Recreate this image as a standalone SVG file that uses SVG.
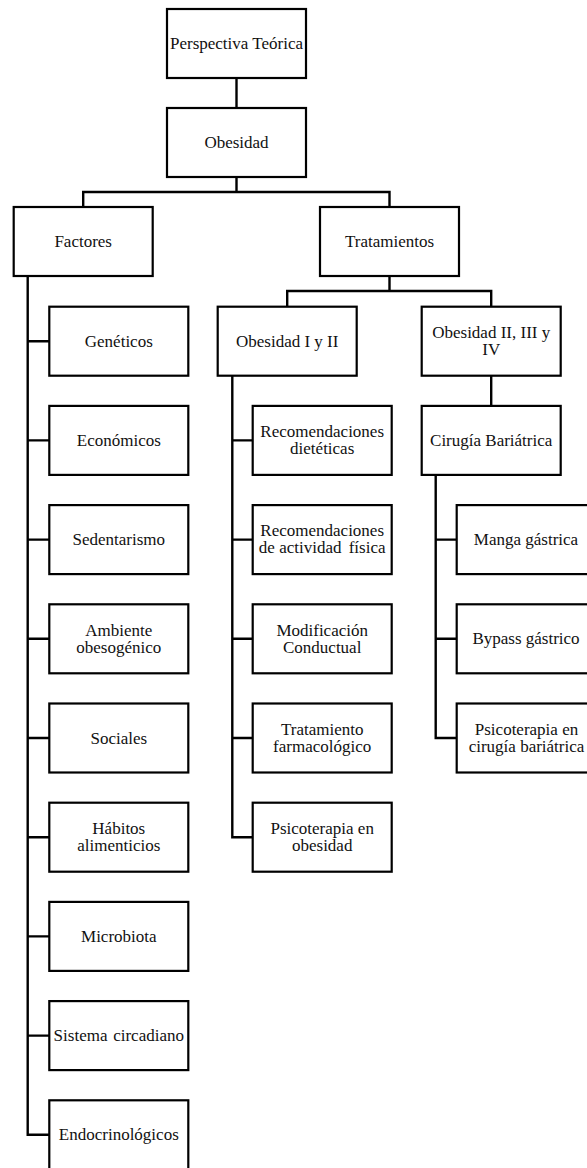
<svg xmlns="http://www.w3.org/2000/svg" width="587" height="1168" viewBox="0 0 587 1168">
  <style>
    .box { fill: #ffffff; stroke: #000000; stroke-width: 2.2; }
    .lbl { font-family: 'Liberation Serif', serif; font-size: 17px; fill: #111111; text-anchor: middle; }
    .wire { fill: none; stroke: #000000; stroke-width: 2.4; stroke-linejoin: miter; }
  </style>
  <rect width="587" height="1168" fill="#ffffff"/>

  <!-- connectors -->
  <g id="connectors" class="wire">
    <path d="M236.5 78 V108"/>
    <path d="M236.5 178 V192 M83.2 207 V192 H389.5 V207"/>
    <path d="M389.5 276 V291 M287.2 307 V291 H491.2 V307"/>
    <path d="M491.2 376 V405.7"/>
    <!-- Factores trunk -->
    <path d="M27.7 276 V1134.8 H49.3"/>
    <path d="M27.7 341.2 H49.3 M27.7 440.4 H49.3 M27.7 539.6 H49.3 M27.7 638.8 H49.3 M27.7 738 H49.3 M27.7 837.2 H49.3 M27.7 936.4 H49.3 M27.7 1035.6 H49.3"/>
    <!-- Obesidad I y II trunk -->
    <path d="M232.3 376 V837.2 H252.7"/>
    <path d="M232.3 440.4 H252.7 M232.3 539.6 H252.7 M232.3 638.8 H252.7 M232.3 738 H252.7"/>
    <!-- Cirugía Bariátrica trunk -->
    <path d="M435.7 475 V738 H456.7"/>
    <path d="M435.7 539.6 H456.7 M435.7 638.8 H456.7"/>
  </g>

  <g font-family="Liberation Serif, serif">
  <g id="perspectiva">
    <rect class="box" x="167" y="9" width="139" height="69"/>
    <text class="lbl" x="236.5" y="49">Perspectiva Teórica</text>
  </g>
  <g id="obesidad">
    <rect class="box" x="167" y="108" width="139" height="69"/>
    <text class="lbl" x="236.5" y="148">Obesidad</text>
  </g>
  <g id="factores">
    <rect class="box" x="13.7" y="207" width="139" height="69"/>
    <text class="lbl" x="83.2" y="247">Factores</text>
  </g>
  <g id="tratamientos">
    <rect class="box" x="320" y="207" width="139" height="69"/>
    <text class="lbl" x="389.5" y="247">Tratamientos</text>
  </g>
  <g id="obesidad-1-2">
    <rect class="box" x="217.7" y="306.7" width="139" height="69"/>
    <text class="lbl" x="287.2" y="346.7">Obesidad I y II</text>
  </g>
  <g id="obesidad-2-3-4">
    <rect class="box" x="421.7" y="306.7" width="139" height="69"/>
    <text class="lbl" x="491.2" y="338">Obesidad II, III y</text>
    <text class="lbl" x="491.2" y="355">IV</text>
  </g>
  <g id="cirugia">
    <rect class="box" x="421.7" y="405.9" width="139" height="69"/>
    <text class="lbl" x="491.2" y="446">Cirugía Bariátrica</text>
  </g>

  <!-- Factores children -->
  <g id="geneticos">
    <rect class="box" x="49.3" y="306.7" width="139" height="69"/>
    <text class="lbl" x="118.8" y="346.7">Genéticos</text>
  </g>
  <g id="economicos">
    <rect class="box" x="49.3" y="405.9" width="139" height="69"/>
    <text class="lbl" x="118.8" y="445.9">Económicos</text>
  </g>
  <g id="sedentarismo">
    <rect class="box" x="49.3" y="505.1" width="139" height="69"/>
    <text class="lbl" x="118.8" y="545.1">Sedentarismo</text>
  </g>
  <g id="ambiente">
    <rect class="box" x="49.3" y="604.3" width="139" height="69"/>
    <text class="lbl" x="118.8" y="635.5">Ambiente</text>
    <text class="lbl" x="118.8" y="652.5">obesogénico</text>
  </g>
  <g id="sociales">
    <rect class="box" x="49.3" y="703.5" width="139" height="69"/>
    <text class="lbl" x="118.8" y="743.5">Sociales</text>
  </g>
  <g id="habitos">
    <rect class="box" x="49.3" y="802.7" width="139" height="69"/>
    <text class="lbl" x="118.8" y="833.9">Hábitos</text>
    <text class="lbl" x="118.8" y="850.9">alimenticios</text>
  </g>
  <g id="microbiota">
    <rect class="box" x="49.3" y="901.9" width="139" height="69"/>
    <text class="lbl" x="118.8" y="941.9">Microbiota</text>
  </g>
  <g id="circadiano">
    <rect class="box" x="49.3" y="1001.1" width="139" height="69"/>
    <text class="lbl" x="118.8" y="1041.1" word-spacing="1.5">Sistema circadiano</text>
  </g>
  <g id="endocrinologicos">
    <rect class="box" x="49.3" y="1100.3" width="139" height="69"/>
    <text class="lbl" x="118.8" y="1140.3">Endocrinológicos</text>
  </g>

  <!-- Obesidad I y II children -->
  <g id="rec-dieteticas">
    <rect class="box" x="252.7" y="405.9" width="139" height="69"/>
    <text class="lbl" x="322.2" y="437.1">Recomendaciones</text>
    <text class="lbl" x="322.2" y="454.1">dietéticas</text>
  </g>
  <g id="rec-actividad">
    <rect class="box" x="252.7" y="505.1" width="139" height="69"/>
    <text class="lbl" x="322.2" y="536.3">Recomendaciones</text>
    <text class="lbl" x="322.2" y="553.3">de actividad <tspan dx="3">física</tspan></text>
  </g>
  <g id="modificacion">
    <rect class="box" x="252.7" y="604.3" width="139" height="69"/>
    <text class="lbl" x="322.2" y="635.5">Modificación</text>
    <text class="lbl" x="322.2" y="652.5">Conductual</text>
  </g>
  <g id="farmacologico">
    <rect class="box" x="252.7" y="703.5" width="139" height="69"/>
    <text class="lbl" x="322.2" y="734.7">Tratamiento</text>
    <text class="lbl" x="322.2" y="751.7">farmacológico</text>
  </g>
  <g id="psico-obesidad">
    <rect class="box" x="252.7" y="802.7" width="139" height="69"/>
    <text class="lbl" x="322.2" y="833.9">Psicoterapia en</text>
    <text class="lbl" x="322.2" y="850.9">obesidad</text>
  </g>

  <!-- Cirugía Bariátrica children -->
  <g id="manga">
    <rect class="box" x="456.7" y="505.1" width="139" height="69"/>
    <text class="lbl" x="526" y="545.1">Manga gástrica</text>
  </g>
  <g id="bypass">
    <rect class="box" x="456.7" y="604.3" width="139" height="69"/>
    <text class="lbl" x="526" y="644.3">Bypass gástrico</text>
  </g>
  <g id="psico-cirugia">
    <rect class="box" x="456.7" y="703.5" width="139" height="69"/>
    <text class="lbl" x="526.5" y="734.7">Psicoterapia en</text>
    <text class="lbl" x="526.5" y="751.7">cirugía bariátrica</text>
  </g>
  </g>
</svg>
